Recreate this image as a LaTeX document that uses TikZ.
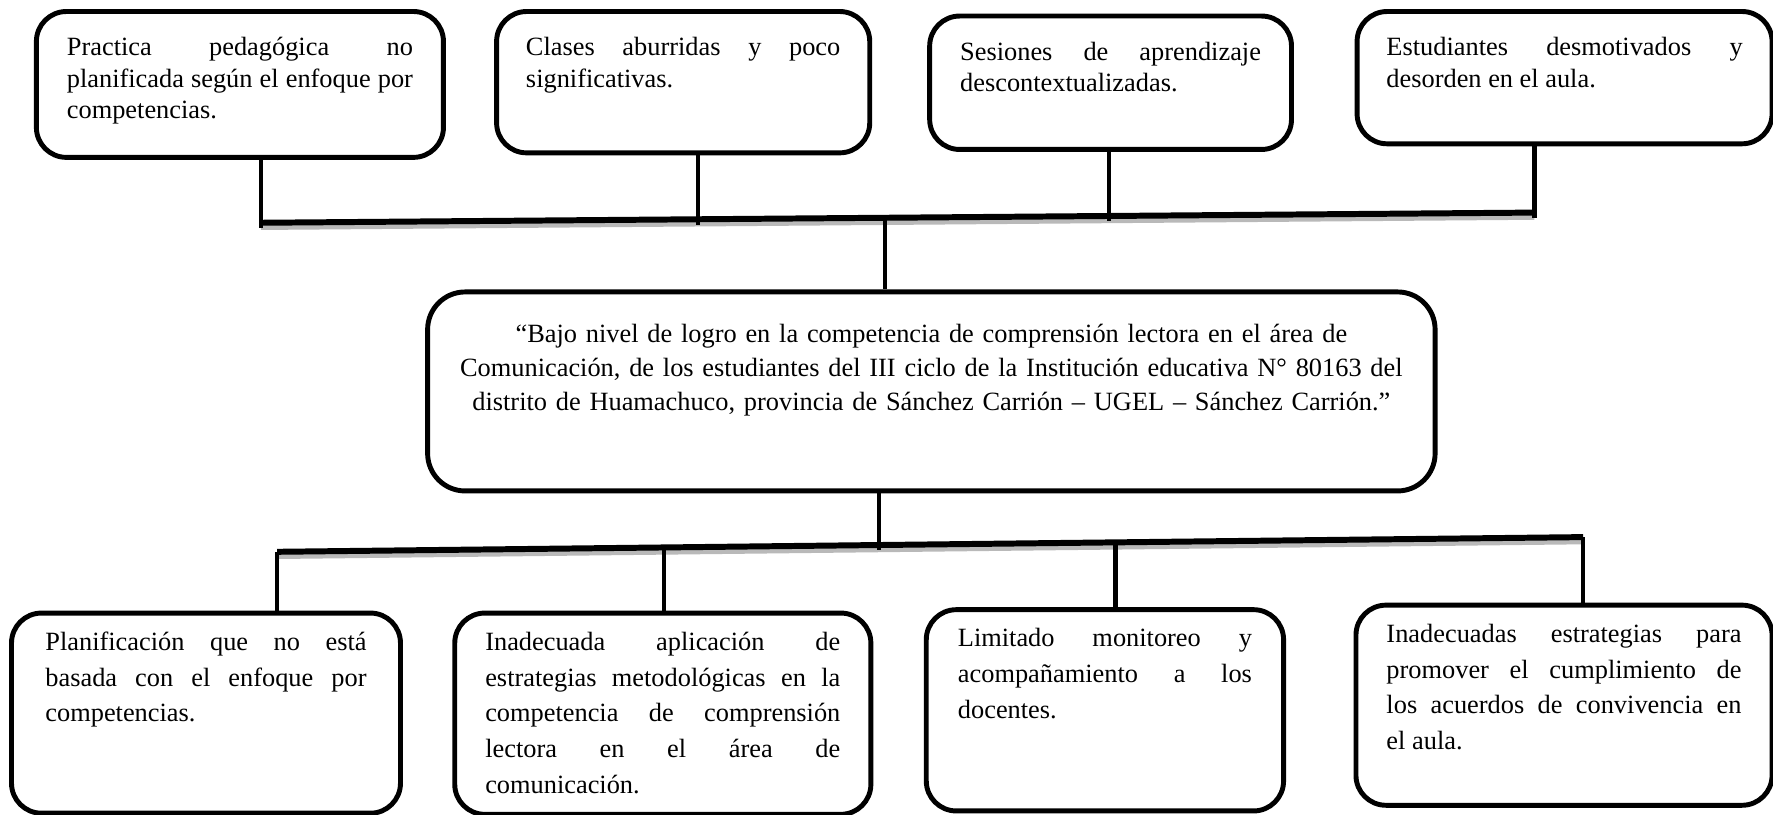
\documentclass[tikz,border=0pt]{standalone}
\usepackage{fontspec}
\setmainfont{Liberation Serif}
\usepackage{tikz}
\usetikzlibrary{positioning, calc}
\newdimen\upx
\upx=0.022615cm
\tolerance=10000
\hyphenpenalty=10000

\begin{document}
\begin{tikzpicture}[x=\upx, y=-\upx,
    caja/.style={draw, line width=2.8pt, rounded corners=0.6cm, anchor=north west,
        inner ysep=0pt, align=justify},
    efecto/.style={caja, font=\fontsize{15pt}{18pt}\selectfont, text height=39\upx},
    causa/.style={caja, font=\fontsize{15pt}{20.3pt}\selectfont, text height=33\upx},
    rama/.style={line width=2.4pt},
    barra/.style={line width=3.4pt},
    sombra/.style={line width=3pt, gray!55}
]
\useasboundingbox (0,0) rectangle (1568,720);

\node[efecto, text width=306\upx, inner xsep=27\upx, text depth=90\upx] (efecto1) at (30,8)
    {Practica pedagógica no\linebreak planificada según el enfoque por\linebreak competencias.};
\node[efecto, text width=278\upx, inner xsep=26\upx, text depth=86\upx] (efecto2) at (437,8)
    {Clases aburridas y poco\linebreak significativas.};
\node[efecto, text width=266\upx, inner xsep=27\upx, text depth=79\upx] (efecto3) at (820,12)
    {Sesiones de aprendizaje\linebreak descontextualizadas.};
\node[efecto, text width=315\upx, inner xsep=26\upx, text depth=78\upx] (efecto4) at (1198,8)
    {Estudiantes desmotivados y\linebreak desorden en el aula.};

\node[caja, rounded corners=0.75cm, align=center, text width=860\upx, inner xsep=15.5\upx,
    font=\fontsize{15pt}{19.3pt}\selectfont, text height=45\upx, text depth=131\upx] (problema) at (376,256)
    {“Bajo nivel de logro en la competencia de comprensión lectora en el área de\\
    Comunicación, de los estudiantes del III ciclo de la Institución educativa N° 80163 del\\
    distrito de Huamachuco, provincia de Sánchez Carrión – UGEL – Sánchez Carrión.”};

\node[causa, text width=284\upx, inner xsep=30\upx, text depth=144\upx] (causa1) at (8,540)
    {Planificación que no está\linebreak basada con el enfoque por\linebreak competencias.};
\node[causa, text width=314\upx, inner xsep=27\upx, text depth=145\upx] (causa2) at (400,540)
    {Inadecuada aplicación de\linebreak estrategias metodológicas en la\linebreak competencia de comprensión\linebreak lectora en el área de\linebreak comunicación.};
\node[causa, text width=260\upx, inner xsep=28\upx, text depth=145\upx] (causa3) at (817,537)
    {Limitado monitoreo y\linebreak acompañamiento a los\linebreak docentes.};
\node[causa, text width=314\upx, inner xsep=27\upx, text depth=144\upx] (causa4) at (1197,533)
    {Inadecuadas estrategias para\linebreak promover el cumplimiento de\linebreak los acuerdos de convivencia en\linebreak el aula.};

\coordinate (ei) at (231,197);
\coordinate (ed) at (1357,188);
\coordinate (e2) at ($(ei)!0.343!(ed)$);
\coordinate (e3) at ($(ei)!0.666!(ed)$);
\coordinate (ec) at ($(ei)!0.49!(ed)$);
\coordinate (ci) at (245,488);
\coordinate (cd) at (1400,475);
\coordinate (c2) at ($(ci)!0.296!(cd)$);
\coordinate (c3) at ($(ci)!0.642!(cd)$);
\coordinate (cc) at ($(ci)!0.461!(cd)$);

\draw[sombra] ([yshift=-2.6pt]ei) -- ([yshift=-2.6pt]ed);
\draw[barra] (ei) -- (ed);
\draw[sombra] ([yshift=-2.6pt]ci) -- ([yshift=-2.6pt]cd);
\draw[barra] (ci) -- (cd);

\draw[rama, shorten >=-3pt] (efecto1.south -| ei) -- (ei);
\draw[rama, shorten >=-3pt] (efecto2.south -| e2) -- (e2);
\draw[rama, shorten >=-3pt] (efecto3.south -| e3) -- (e3);
\draw[rama, shorten >=-3pt] (efecto4.south -| ed) -- (ed);
\draw[rama] (ec) -- (problema.north -| ec);

\draw[rama, shorten >=-3pt] (problema.south -| cc) -- (cc);
\draw[rama] (ci) -- (causa1.north -| ci);
\draw[rama] (c2) -- (causa2.north -| c2);
\draw[rama] (c3) -- (causa3.north -| c3);
\draw[rama] (cd) -- (causa4.north -| cd);

\end{tikzpicture}
\end{document}
